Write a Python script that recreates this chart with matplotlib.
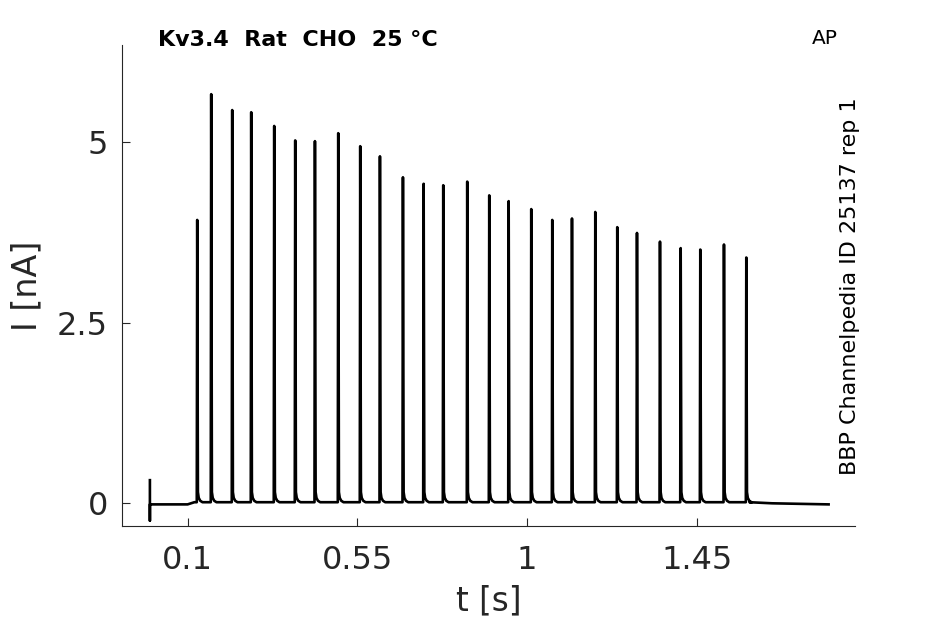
import numpy as np
import matplotlib
matplotlib.use("Agg")
import matplotlib.pyplot as plt

# spike times [s] and peak currents [nA]
spike_t = [0.1255, 0.1626, 0.2183, 0.2687, 0.3297, 0.3854, 0.4377, 0.4995, 0.5578,
           0.6101, 0.6711, 0.7260, 0.7780, 0.8416, 0.9000, 0.9515, 1.0114, 1.0671,
           1.1194, 1.1812, 1.2395, 1.2918, 1.3528, 1.4077, 1.4597, 1.5225, 1.5817]
spike_peak = [3.92, 5.66, 5.44, 5.41, 5.22, 5.02, 5.01, 5.12, 4.94,
              4.80, 4.51, 4.42, 4.40, 4.45, 4.26, 4.18, 4.07, 3.92,
              3.94, 4.03, 3.82, 3.74, 3.62, 3.53, 3.51, 3.58, 3.40]

# baseline knots (time, current)
base_t = [0.0, 0.100, 0.118, 1.590, 1.650, 1.800]
base_i = [-0.015, -0.015, 0.015, 0.015, 0.0, -0.015]

# stimulus artifact at t=0
artifact = [0.32, -0.24]

xticks = [0.1, 0.55, 1, 1.45]
xticklabels = ['0.1', '0.55', '1', '1.45']
yticks = [0, 2.5, 5]
yticklabels = ['0', '2.5', '5']

# spike shape template: (offset in s, fraction of amplitude, tail in nA)
tmpl_dt = [-0.0012, 0.0, 0.0018, 0.004, 0.008, 0.014]
tmpl_frac = [0.0, 1.0, 0.0, 0.0, 0.0, 0.0]
tmpl_tail = [0.0, 0.0, 0.14, 0.06, 0.02, 0.0]

def base_at(t):
    return np.interp(t, base_t, base_i)

tt = [base_t[0], base_t[0], base_t[0]]
ii = [artifact[0], artifact[1], base_i[0]]
tt += [base_t[1], base_t[2]]
ii += [base_i[1], base_i[2]]
for ts, pk in zip(spike_t, spike_peak):
    for d, f, tl in zip(tmpl_dt, tmpl_frac, tmpl_tail):
        b = base_at(ts + d)
        tt.append(ts + d)
        ii.append(b + f * (pk - b) + tl)
tt += base_t[3:]
ii += base_i[3:]

fig = plt.figure(figsize=(9.45, 6.24), dpi=100)
ax = fig.add_axes([122/945, 1-526/624, (855-122)/945, (526-45)/624])
ax.plot(tt, ii, color='black', lw=1.9, solid_joinstyle='round')

ax.set_xlim(-0.074, 1.870)
ax.set_ylim(-0.314, 6.34)
ax.spines['top'].set_visible(False)
ax.spines['right'].set_visible(False)
for s in ['left', 'bottom']:
    ax.spines[s].set_color('#262626')
    ax.spines[s].set_linewidth(0.8)
ax.set_xticks(xticks)
ax.set_xticklabels(xticklabels)
ax.set_yticks(yticks)
ax.set_yticklabels(yticklabels)
ax.tick_params(direction='in', length=6, width=0.8, color='#262626',
               labelsize=23, labelcolor='#262626')
ax.tick_params(axis='x', pad=14)
ax.tick_params(axis='y', pad=10)
ax.set_xlabel('t [s]', fontsize=23.5, color='#262626', labelpad=6)
ax.set_ylabel('I [nA]', fontsize=24, color='#262626', labelpad=10)

fig.text(158/945, 1-40/624, 'Kv3.4  Rat  CHO  25 °C', fontsize=16, fontweight='bold',
         ha='left', va='center')
fig.text(812/945, 1-38/624, 'AP', fontsize=14.5, ha='left', va='center')
fig.text(850/945, 1-286/624, 'BBP Channelpedia ID 25137 rep 1', fontsize=16,
         rotation=90, ha='center', va='center')

fig.savefig('out.png', dpi=100)
